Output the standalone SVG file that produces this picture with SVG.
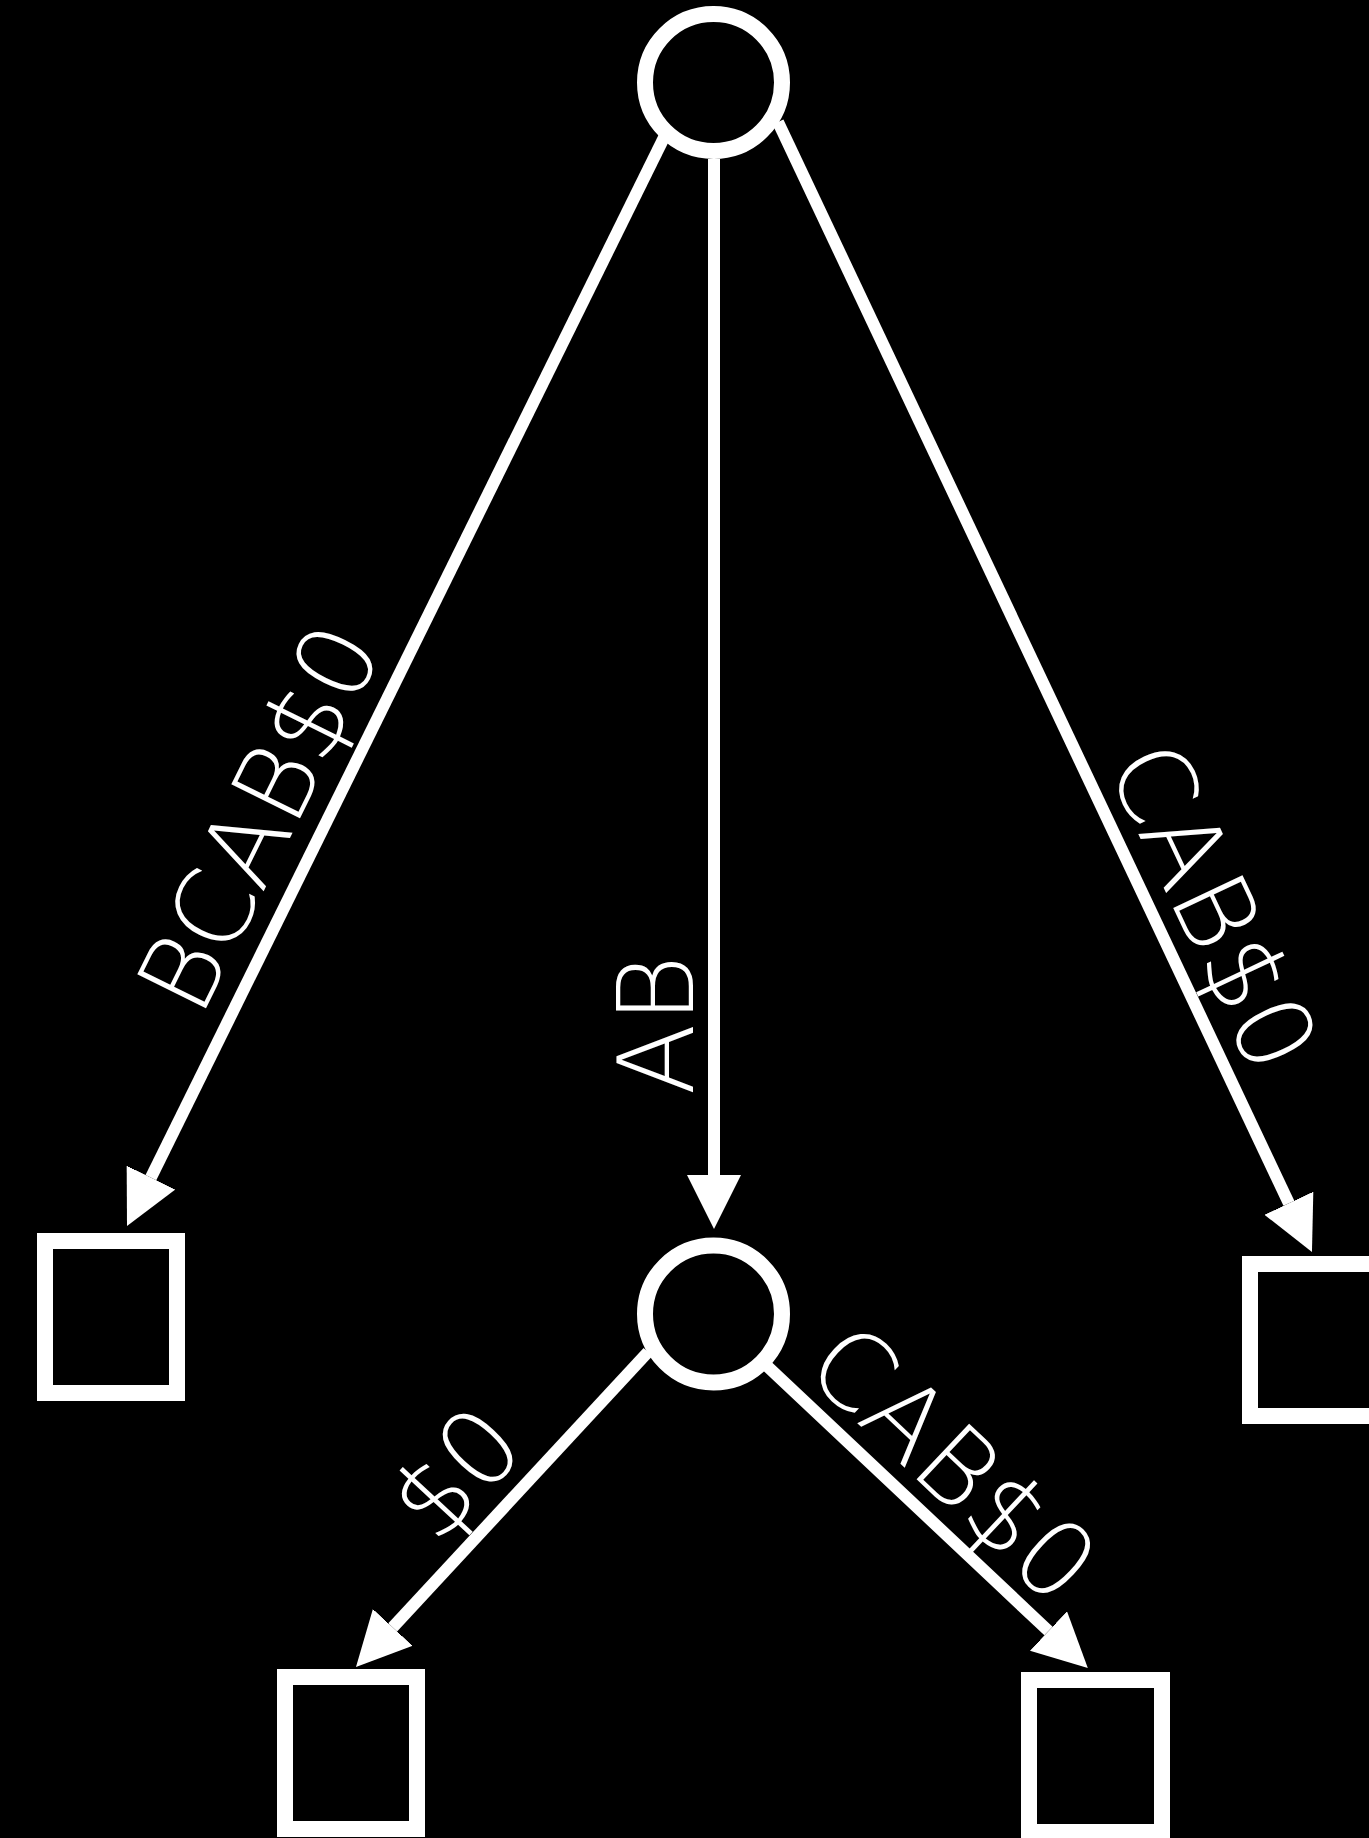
<svg xmlns="http://www.w3.org/2000/svg" width="1369" height="1838" viewBox="0 0 1369 1838">
<style>
.node{fill:none;stroke:#fff;stroke-width:16}
.edge{fill:none;stroke:#fff;stroke-width:12}
.lbl{fill:#fff;font-family:"DejaVu Sans","Liberation Sans",sans-serif;font-weight:200;font-size:105px;text-anchor:middle}
</style>
<defs>
<marker id="ah" markerUnits="userSpaceOnUse" markerWidth="54" markerHeight="54" refX="0" refY="27" orient="auto"><path d="M0,0 L54,27 L0,54 z" fill="#fff"/></marker>
</defs>
<rect width="1369" height="1838" fill="#000"/>
<g id="edges">
<line class="edge" x1="714" y1="159" x2="714" y2="1175" marker-end="url(#ah)"/>
<line class="edge" x1="667.7" y1="130" x2="150.9" y2="1177.6" marker-end="url(#ah)"/>
<line class="edge" x1="778" y1="122" x2="1288.9" y2="1203.2" marker-end="url(#ah)"/>
<line class="edge" x1="648" y1="1352" x2="392.7" y2="1627.4" marker-end="url(#ah)"/>
<line class="edge" x1="765" y1="1364" x2="1048.5" y2="1631" marker-end="url(#ah)"/>
</g>
<g id="labels">
<text class="lbl" transform="translate(693,1025) rotate(-90)">AB</text>
<text class="lbl" transform="translate(292,834) rotate(-63.74)">BCAB$0</text>
<text class="lbl" transform="translate(1180,922) rotate(64.71)">CAB$0</text>
<text class="lbl" transform="translate(483,1498) rotate(-47.17)">$0</text>
<text class="lbl" transform="translate(928,1490) rotate(43.3)">CAB$0</text>
</g>
<g id="n0"><circle class="node" cx="713.5" cy="82.5" r="68.5"/></g>
<g id="n1"><circle class="node" cx="713.5" cy="1314" r="68.5"/></g>
<g id="n2"><rect class="node" x="45" y="1241" width="132" height="152"/></g>
<g id="n3"><rect class="node" x="1250" y="1264" width="132" height="152"/></g>
<g id="n4"><rect class="node" x="285" y="1677" width="132" height="152"/></g>
<g id="n5"><rect class="node" x="1029" y="1680" width="133" height="152"/></g>
</svg>
